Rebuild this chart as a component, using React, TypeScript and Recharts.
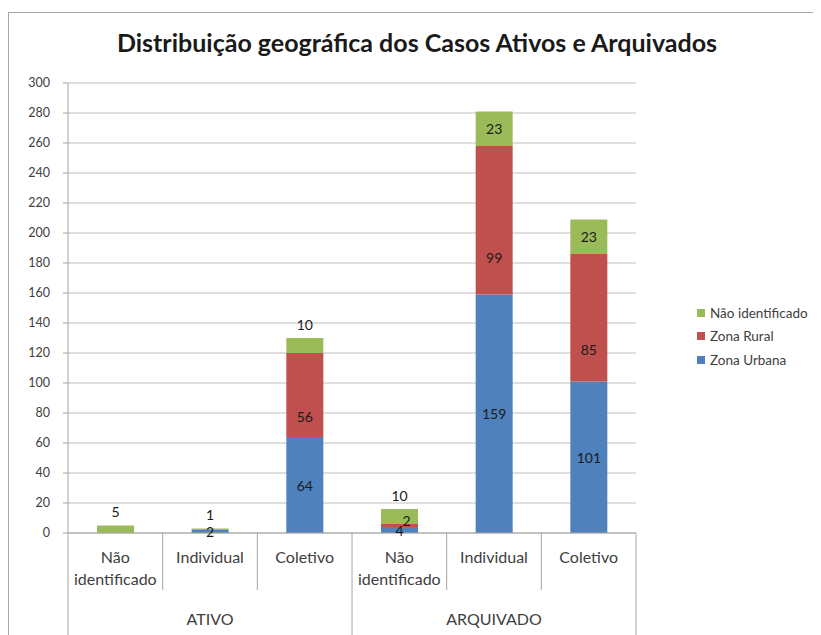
import { BarChart, Bar, XAxis, YAxis, CartesianGrid, LabelList } from 'recharts';

const categories = ['Não identificado', 'Individual', 'Coletivo', 'Não identificado', 'Individual', 'Coletivo'];
const groups = ['ATIVO', 'ATIVO', 'ATIVO', 'ARQUIVADO', 'ARQUIVADO', 'ARQUIVADO'];
const zonaUrbana = [0, 2, 64, 4, 159, 101];
const zonaRural = [0, 0, 56, 2, 99, 85];
const naoIdentificado = [5, 1, 10, 10, 23, 23];
const yTicks = [0, 20, 40, 60, 80, 100, 120, 140, 160, 180, 200, 220, 240, 260, 280, 300];

const BLUE = '#4F81BD';
const RED = '#C0504D';
const GREEN = '#9BBB59';
const FONT = 'Lato, "Open Sans", sans-serif';

const data = categories.map((c, i) => ({
  key: `${groups[i]}-${i}`,
  urbana: zonaUrbana[i],
  rural: zonaRural[i],
  nao: naoIdentificado[i],
}));

const CHART_W = 806;
const CHART_H = 622;
const MARGIN = { top: 70, right: 179, left: 0, bottom: 0 };
const Y_W = 59;
const PLOT_W = CHART_W - MARGIN.right - Y_W;
const BAND = PLOT_W / categories.length;

const CategoryTick = (props: any) => {
  const { x, y, payload } = props;
  const i = payload.index;
  const lines = categories[i] === 'Não identificado' ? ['Não', 'identificado'] : [categories[i]];
  const groupStart = i % 3 === 0;
  return (
    <g>
      <line x1={x - BAND / 2} x2={x - BAND / 2} y1={y} y2={y + (groupStart ? 110 : 57)} stroke="#A6A6A6" />
      {i === categories.length - 1 && (
        <line x1={x + BAND / 2} x2={x + BAND / 2} y1={y} y2={y + 110} stroke="#A6A6A6" />
      )}
      {lines.map((l, k) => (
        <text key={k} x={x} y={y + 23 + k * 22} textAnchor="middle" dominantBaseline="central" fontSize={16} fill="#404040" fontFamily={FONT}>
          {l}
        </text>
      ))}
      {i % 3 === 1 && (
        <text x={x} y={y + 85} textAnchor="middle" dominantBaseline="central" fontSize={16} fill="#404040" fontFamily={FONT}>
          {groups[i]}
        </text>
      )}
    </g>
  );
};

const labelText = (x: number, y: number, value: any) => (
  <text x={x} y={y} textAnchor="middle" dominantBaseline="central" fontSize={14} fill="#1a1a1a" fontFamily={FONT}>
    {value}
  </text>
);

const UrbanaLabel = (p: any) => {
  if (!p.value) return null;
  return labelText(p.x + p.width / 2, p.y + p.height / 2, p.value);
};

const RuralLabel = (p: any) => {
  if (!p.value) return null;
  if (p.height < 10) return labelText(p.x + p.width / 2 + 7, p.y - 4, p.value);
  return labelText(p.x + p.width / 2, p.y + p.height * 0.75, p.value);
};

const NaoLabel = (p: any) => {
  if (!p.value) return null;
  if (p.height < 20) return labelText(p.x + p.width / 2, p.y - 14, p.value);
  return labelText(p.x + p.width / 2, p.y + p.height / 2, p.value);
};

const legendItems = [
  { name: 'Não identificado', color: GREEN },
  { name: 'Zona Rural', color: RED },
  { name: 'Zona Urbana', color: BLUE },
];

export default function App() {
  return (
    <div style={{ paddingTop: 4 }}>
      <div
        style={{
          position: 'relative',
          width: CHART_W + 2,
          height: 640,
          border: '1px solid #A6A6A6',
          boxSizing: 'border-box',
          background: '#fff',
        }}
      >
        <div
          style={{
            position: 'absolute',
            top: 14,
            left: 0,
            width: 816,
            textAlign: 'center',
            fontFamily: FONT,
            fontWeight: 700,
            fontSize: 25,
            color: '#1a1a1a',
          }}
        >
          Distribuição geográfica dos Casos Ativos e Arquivados
        </div>
        <div
          style={{
            position: 'absolute',
            left: 688,
            top: 288,
            fontFamily: FONT,
            fontSize: 13.5,
            color: '#404040',
          }}
        >
          {legendItems.map((it) => (
            <div key={it.name} style={{ display: 'flex', alignItems: 'center', height: 23.5, whiteSpace: 'nowrap' }}>
              <span style={{ display: 'inline-block', width: 8, height: 8, background: it.color, marginRight: 5 }} />
              {it.name}
            </div>
          ))}
        </div>
        <BarChart width={CHART_W} height={CHART_H} data={data} margin={MARGIN} barSize={37}>
          <CartesianGrid vertical={false} stroke="#BFBFBF" />
          <XAxis
            dataKey="key"
            height={102}
            stroke="#A6A6A6"
            tickLine={false}
            tickSize={0}
            tickMargin={0}
            interval={0}
            tick={<CategoryTick />}
          />
          <YAxis
            width={Y_W}
            domain={[0, 300]}
            ticks={yTicks}
            interval={0}
            stroke="#A6A6A6"
            tickSize={5}
            tickMargin={13}
            tick={{ fontSize: 12.5, fill: '#404040', fontFamily: FONT }}
          />
          <Bar dataKey="urbana" name="Zona Urbana" stackId="a" fill={BLUE} isAnimationActive={false}>
            <LabelList dataKey="urbana" content={<UrbanaLabel />} />
          </Bar>
          <Bar dataKey="rural" name="Zona Rural" stackId="a" fill={RED} isAnimationActive={false}>
            <LabelList dataKey="rural" content={<RuralLabel />} />
          </Bar>
          <Bar dataKey="nao" name="Não identificado" stackId="a" fill={GREEN} isAnimationActive={false}>
            <LabelList dataKey="nao" content={<NaoLabel />} />
          </Bar>
        </BarChart>
      </div>
    </div>
  );
}
